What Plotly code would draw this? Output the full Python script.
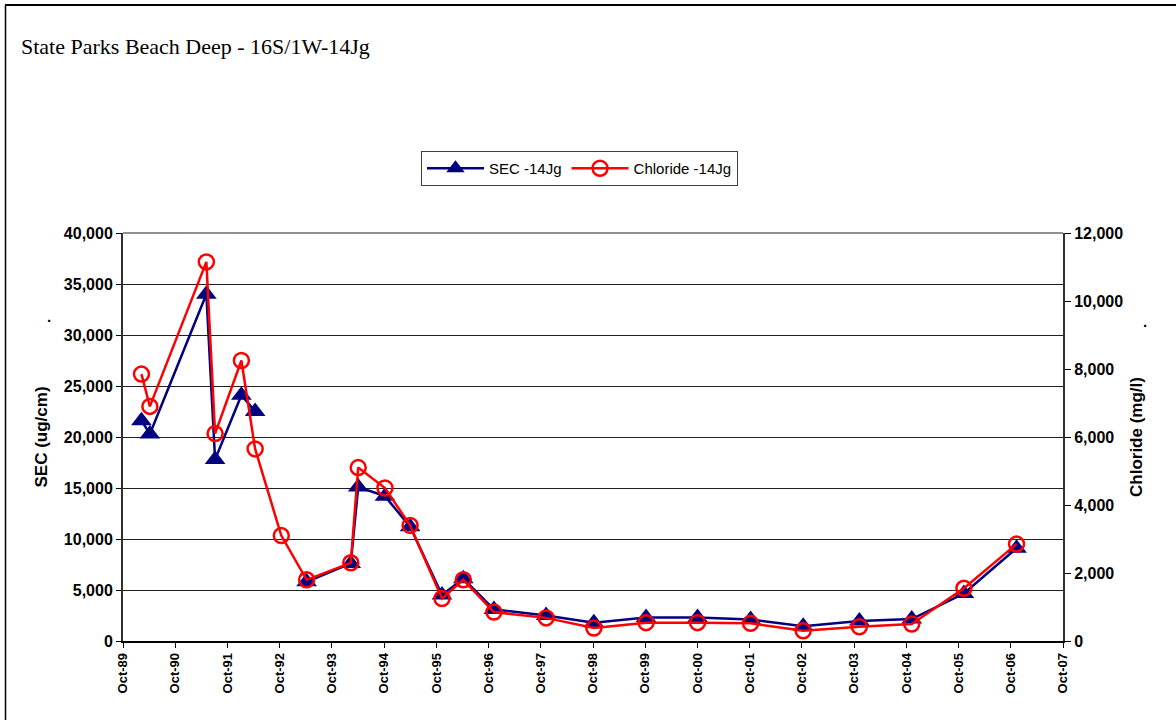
import plotly.graph_objects as go

dates = ["1990-02-07", "1990-04-07", "1991-05-07", "1991-07-07", "1992-01-07",
         "1992-04-12", "1992-10-12", "1993-04-07", "1994-02-10", "1994-04-03",
         "1994-10-07", "1995-04-01", "1995-11-10", "1996-04-07", "1996-11-07",
         "1997-11-07", "1998-10-07", "1999-10-07", "2000-10-01", "2001-10-07",
         "2002-10-10", "2003-11-07", "2004-11-07", "2005-11-07", "2006-11-10"]

sec = [21600, 20300, 34000, 17800, 24100, 22500, None, 5800, 7600, 15100,
       14200, 11200, 4500, 6100, 3100, 2500, 1800, 2300, 2300, 2100,
       1450, 1950, 2150, 4650, 9100]

chloride = [7850, 6900, 11150, 6100, 8250, 5650, 3100, 1800, 2300, 5100,
            4500, 3400, 1250, 1800, 850, 680, 380, 540, 540, 520,
            300, 420, 500, 1550, 2850]

tick_dates = ["%d-10-01" % y for y in range(1989, 2008)]
tick_labels = ["Oct-%02d" % (y % 100) for y in range(1989, 2008)]

left_ticks = [0, 5000, 10000, 15000, 20000, 25000, 30000, 35000, 40000]
right_ticks = [0, 2000, 4000, 6000, 8000, 10000, 12000]

W, H = 1176, 720
ML, MR, MT, MB = 123, 113, 233, 79
pw = W - ML - MR
ph = H - MT - MB

def px(x):
    return (x - ML) / pw

def py(y):
    return (H - MB - y) / ph

FONT = "Liberation Sans, Arial"

fig = go.Figure()

fig.add_trace(go.Scatter(
    x=dates, y=sec, name="SEC -14Jg", mode="lines+markers",
    line=dict(color="#000080", width=2.5),
    marker=dict(symbol="triangle-up", size=18, color="#000080"),
    connectgaps=False, yaxis="y"))

fig.add_trace(go.Scatter(
    x=dates, y=chloride, name="Chloride -14Jg", mode="lines+markers",
    line=dict(color="#FF0000", width=2.5),
    marker=dict(symbol="circle-open", size=15, color="#FF0000", line=dict(width=2.5, color="#FF0000")),
    yaxis="y2"))

tickfont = dict(family=FONT, size=16, color="black", weight="bold")
titlefont = dict(family=FONT, size=17, color="black", weight="bold")

fig.update_layout(
    width=W, height=H,
    margin=dict(l=ML, r=MR, t=MT, b=MB, autoexpand=False),
    paper_bgcolor="white", plot_bgcolor="white",
    showlegend=True,
    legend=dict(orientation="h", x=px(421), y=py(151), xanchor="left", yanchor="top",
                bordercolor="#404040", borderwidth=1, bgcolor="white",
                font=dict(family=FONT, size=15, color="black"),
                itemwidth=57, tracegroupgap=0),
    xaxis=dict(type="date", range=[tick_dates[0], tick_dates[-1]],
               tickvals=tick_dates, ticktext=tick_labels, tickangle=-90,
               tickfont=dict(family=FONT, size=13, color="black", weight="bold"),
               ticks="outside", ticklen=5, tickcolor="black",
               showline=True, linecolor="black", linewidth=1.5, showgrid=False, zeroline=False),
    yaxis=dict(range=[0, 40000], tickvals=left_ticks,
               ticktext=[f"{v:,}" for v in left_ticks], tickfont=tickfont,
               ticks="outside", ticklen=5, tickcolor="black",
               showline=True, linecolor="#303030", linewidth=2,
               showgrid=True, gridcolor="#202020", gridwidth=1, zeroline=False,
               title=dict(text="SEC (ug/cm)", font=titlefont, standoff=12)),
    yaxis2=dict(range=[0, 12000], tickvals=right_ticks, overlaying="y", side="right",
                ticktext=[f"{v:,}" for v in right_ticks], tickfont=tickfont,
                ticks="outside", ticklen=6, tickcolor="black",
                showline=True, linecolor="#303030", linewidth=2, showgrid=False, zeroline=False,
                title=dict(text="Chloride (mg/l)", font=titlefont, standoff=8)),
    font=dict(family=FONT, color="black"),
)

fig.add_annotation(text="State Parks Beach Deep - 16S/1W-14Jg", xref="paper", yref="paper",
                   x=px(19), y=py(46), xanchor="left", yanchor="middle", showarrow=False,
                   font=dict(family="Liberation Serif, Times New Roman", size=22, color="black"))
fig.add_annotation(text=".", xref="paper", yref="paper", x=px(49), y=py(316),
                   xanchor="center", yanchor="middle", showarrow=False,
                   font=dict(family=FONT, size=15, color="black", weight="bold"))
fig.add_annotation(text=".", xref="paper", yref="paper", x=px(1145), y=py(321),
                   xanchor="center", yanchor="middle", showarrow=False,
                   font=dict(family=FONT, size=15, color="black", weight="bold"))

# top gridline at 40,000 in gray and outer frame
fig.add_shape(type="line", xref="paper", yref="paper", x0=0, x1=1, y0=1, y1=1,
              line=dict(color="#909090", width=2))
fig.add_shape(type="line", xref="paper", yref="paper", x0=px(5), x1=px(1176), y0=py(5), y1=py(5),
              line=dict(color="black", width=2))
fig.add_shape(type="line", xref="paper", yref="paper", x0=px(5.5), x1=px(5.5), y0=py(5), y1=py(720),
              line=dict(color="black", width=1.5))

fig.write_html("out.html", config={"displayModeBar": False},
               post_script="document.body.style.margin='0px';document.body.style.overflow='hidden';")
